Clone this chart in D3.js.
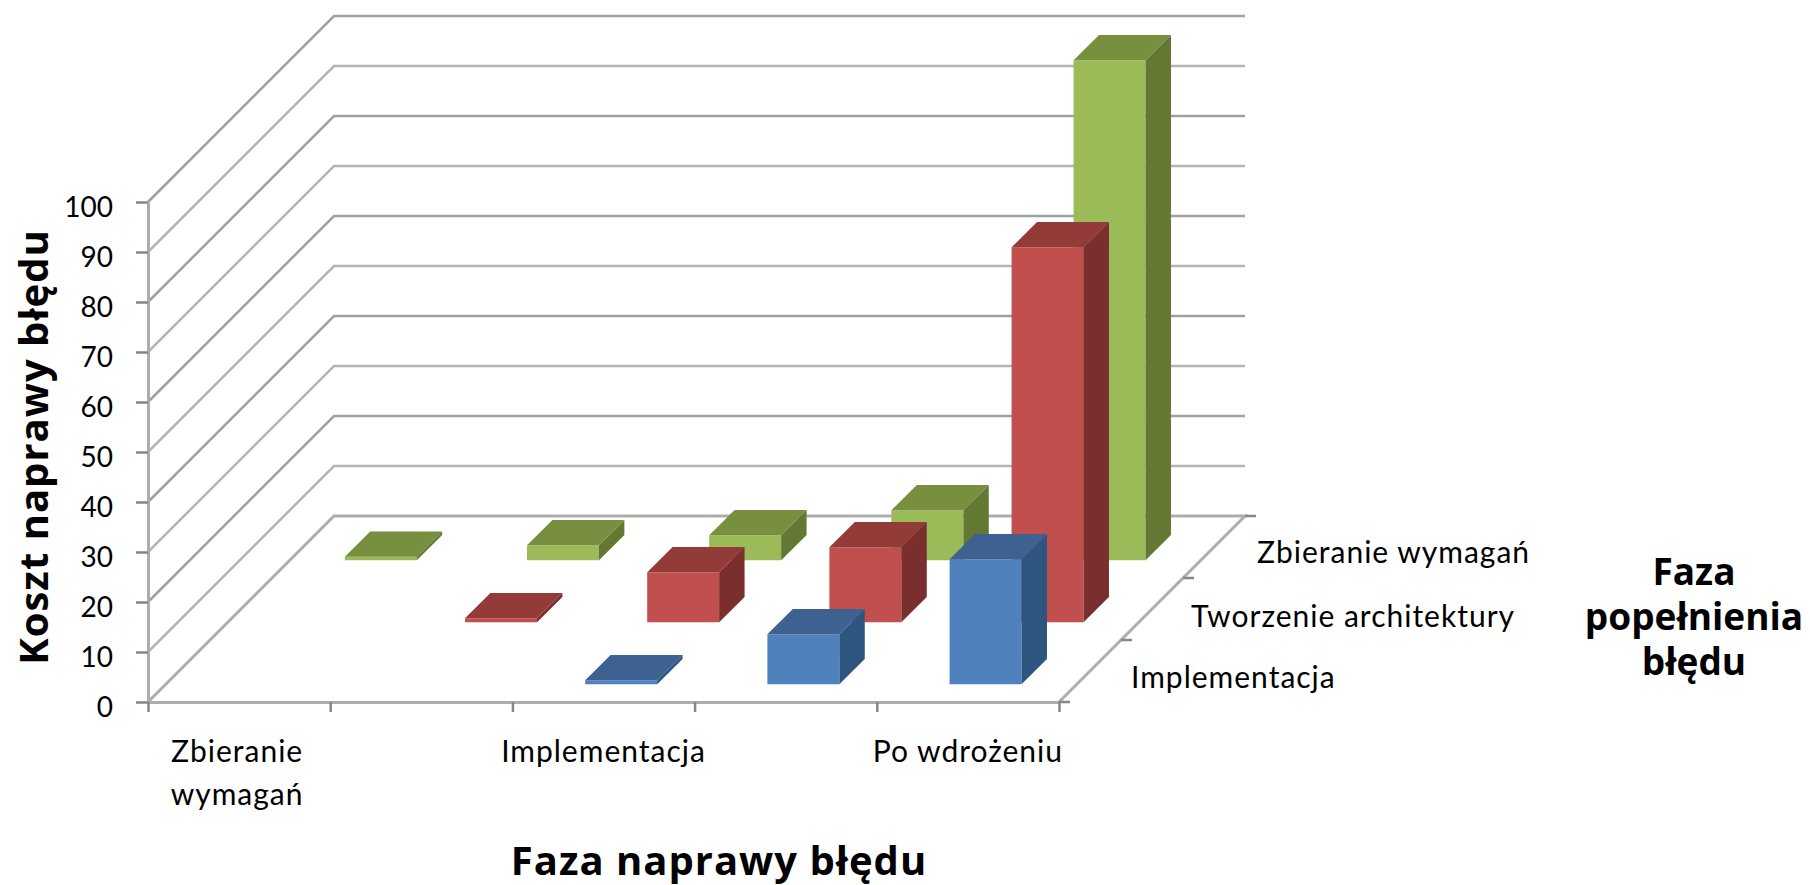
<!DOCTYPE html>
<html>
<head>
<meta charset="utf-8">
<script src="https://cdn.jsdelivr.net/npm/d3@7"></script>
<style>
  html, body { margin: 0; padding: 0; background: #fff; overflow: hidden; }
  text { fill: #000; }
  .tick-label { font-family: Lato, "Noto Sans", sans-serif; font-size: 30px; letter-spacing: 1px; }
  .value-label { font-family: Lato, "Noto Sans", sans-serif; font-size: 28px; }
  .title { font-family: "Open Sans", "DejaVu Sans", sans-serif; font-size: 40px; font-weight: 700; letter-spacing: 1px; }
  .side-title { font-family: "Open Sans", "DejaVu Sans", sans-serif; font-size: 37px; font-weight: 700; }
</style>
</head>
<body>
<div id="chart"></div>
<script>
// chart data
var fixPhases = ["Zbieranie wymagań", "", "Implementacja", "", "Po wdrożeniu"];
var madePhases = ["Implementacja", "Tworzenie architektury", "Zbieranie wymagań"];
var implementationCost = [null, null, 0.8, 10, 25];
var architectureCost = [null, 0.8, 10, 15, 75];
var requirementsCost = [0.7, 3, 5, 10, 100];
var yTicks = [0, 10, 20, 30, 40, 50, 60, 70, 80, 90, 100];

// one colour set per row, front / top / side
var rowColors = [
  {front: "#4f81bd", top: "#3c6291", side: "#2f5580"},
  {front: "#c0504d", top: "#933a38", side: "#7a2f2e"},
  {front: "#9bbb59", top: "#788f40", side: "#637833"}
];
var rowValues = [implementationCost, architectureCost, requirementsCost];

var width = 1810, height = 885;
var barShare = 0.395, depthShare = 0.41;

var svg = d3.select("#chart").append("svg")
  .attr("width", width)
  .attr("height", height);

// the reference is a soft upscale, so the chart lines are slightly blurred
svg.append("defs").append("filter")
    .attr("id", "soft")
    .attr("x", "-5%").attr("y", "-5%").attr("width", "110%").attr("height", "110%")
  .append("feGaussianBlur")
    .attr("stdDeviation", 0.7);

// scales: x along the categories, y for the cost, depth for the oblique axis
var x = d3.scaleLinear().domain([0, fixPhases.length]).range([148, 1059]);
var y = d3.scaleLinear().domain([0, 100]).range([702, 202]);
var depth = d3.scaleLinear().domain([0, madePhases.length]).range([0, 186]);

// project a point (category, row, value) to the screen
function px(c, r) { return x(c) + depth(r); }
function py(v, r) { return y(v) - depth(r); }

var plot = svg.append("g").attr("filter", "url(#soft)");

// walls: one polyline per y tick
plot.append("g").selectAll("polyline")
  .data(yTicks.slice(1))
  .enter().append("polyline")
    .attr("fill", "none")
    .attr("stroke", function(d) { return d % 20 == 0 ? "#a0a0a0" : "#b4b4b4"; })
    .attr("stroke-width", 2.5)
    .attr("points", function(d) {
      return [[px(0, 0), py(d, 0)], [px(0, 3), py(d, 3)], [px(5, 3), py(d, 3)]].join(" ");
    });

// floor outline
plot.append("polyline")
  .attr("fill", "none")
  .attr("stroke", "#adadad")
  .attr("stroke-width", 3)
  .attr("points", [[px(0, 0), py(0, 0)], [px(0, 3), py(0, 3)], [px(5, 3), py(0, 3)], [px(5, 0), py(0, 0)]].join(" "));

// value and category axes
var yAxis = d3.axisLeft(y).tickValues(yTicks).tickSize(12).tickSizeOuter(0).tickFormat("");
var xAxis = d3.axisBottom(x).tickValues(d3.range(0, 6)).tickSize(10).tickSizeOuter(0).tickFormat("");

var gy = plot.append("g").attr("transform", "translate(148,0)").call(yAxis);
var gx = plot.append("g").attr("transform", "translate(0,702)").call(xAxis);
[gy, gx].forEach(function(g) {
  g.selectAll("path").attr("stroke", "#adadad").attr("stroke-width", 3);
  g.selectAll("line").attr("stroke", "#868686").attr("stroke-width", 2.5);
});

// ticks on the oblique axis
plot.append("g").selectAll("line")
  .data(d3.range(0, 4))
  .enter().append("line")
    .attr("x1", function(d) { return px(5, d); })
    .attr("y1", function(d) { return py(0, d); })
    .attr("x2", function(d) { return px(5, d) + 11; })
    .attr("y2", function(d) { return py(0, d); })
    .attr("stroke", "#868686")
    .attr("stroke-width", 2.5);

// bars, back row first
var bars = [];
[2, 1, 0].forEach(function(r) {
  rowValues[r].forEach(function(v, c) {
    if (v != null) bars.push({row: r, cat: c, value: v});
  });
});

var barG = plot.append("g").selectAll("g")
  .data(bars)
  .enter().append("g");

function corners(d) {
  var c0 = d.cat + (1 - barShare) / 2, c1 = c0 + barShare;
  var r0 = d.row + (1 - depthShare) / 2 - 0.01, r1 = r0 + depthShare;
  return {c0: c0, c1: c1, r0: r0, r1: r1};
}

barG.append("polygon")
  .attr("fill", function(d) { return rowColors[d.row].front; })
  .attr("points", function(d) {
    var k = corners(d);
    return [[px(k.c0, k.r0), py(0, k.r0)], [px(k.c1, k.r0), py(0, k.r0)],
            [px(k.c1, k.r0), py(d.value, k.r0)], [px(k.c0, k.r0), py(d.value, k.r0)]].join(" ");
  });

barG.append("polygon")
  .attr("fill", function(d) { return rowColors[d.row].side; })
  .attr("points", function(d) {
    var k = corners(d);
    return [[px(k.c1, k.r0), py(0, k.r0)], [px(k.c1, k.r1), py(0, k.r1)],
            [px(k.c1, k.r1), py(d.value, k.r1)], [px(k.c1, k.r0), py(d.value, k.r0)]].join(" ");
  });

barG.append("polygon")
  .attr("fill", function(d) { return rowColors[d.row].top; })
  .attr("points", function(d) {
    var k = corners(d);
    return [[px(k.c0, k.r0), py(d.value, k.r0)], [px(k.c1, k.r0), py(d.value, k.r0)],
            [px(k.c1, k.r1), py(d.value, k.r1)], [px(k.c0, k.r1), py(d.value, k.r1)]].join(" ");
  });

// y tick labels
svg.append("g").selectAll("text")
  .data(yTicks)
  .enter().append("text")
    .attr("class", "value-label")
    .attr("x", 113)
    .attr("y", function(d) { return y(d) + 15; })
    .attr("text-anchor", "end")
    .text(function(d) { return d; });

// category labels, the long one wraps over two lines
svg.append("g").selectAll("text")
  .data(fixPhases)
  .enter().append("text")
    .attr("class", "tick-label")
    .attr("text-anchor", "middle")
    .attr("y", 762)
    .each(function(d, i) {
      var words = i == 0 ? d.split(" ") : [d];
      d3.select(this).selectAll("tspan")
        .data(words)
        .enter().append("tspan")
          .attr("x", x(i + 0.5) - (i == 0 ? 2 : 0))
          .attr("dy", function(w, j) { return j ? 43 : 0; })
          .text(function(w) { return w; });
    });

// row labels beside the oblique axis
var rowLabelX = [1131, 1191, 1257];
var rowLabelY = [688, 627, 563];
svg.append("g").selectAll("text")
  .data(madePhases)
  .enter().append("text")
    .attr("class", "tick-label")
    .attr("x", function(d, i) { return rowLabelX[i]; })
    .attr("y", function(d, i) { return rowLabelY[i]; })
    .text(function(d) { return d; });

// axis titles
svg.append("text")
  .attr("class", "title")
  .attr("text-anchor", "middle")
  .attr("transform", "translate(48,447) rotate(-90)")
  .text("Koszt naprawy błędu");

svg.append("text")
  .attr("class", "title")
  .attr("text-anchor", "middle")
  .attr("x", 719)
  .attr("y", 875)
  .text("Faza naprawy błędu");

var rightTitle = ["Faza", "popełnienia", "błędu"];
svg.append("g").selectAll("text")
  .data(rightTitle)
  .enter().append("text")
    .attr("class", "side-title")
    .attr("text-anchor", "middle")
    .attr("x", 1694)
    .attr("y", function(d, i) { return 585 + i * 45; })
    .text(function(d) { return d; });
</script>
</body>
</html>
